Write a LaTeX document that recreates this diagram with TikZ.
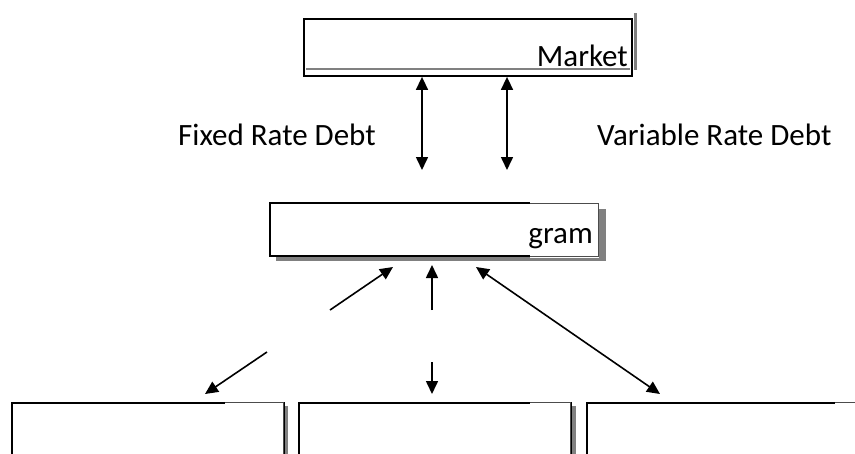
\documentclass[tikz,border=0pt]{standalone}
\usepackage{fontspec}
\setmainfont{Carlito}
\usetikzlibrary{arrows.meta}
\begin{document}
\begin{tikzpicture}[x=1pt,y=-1pt,
  box/.style={draw=black, line width=1.8pt, fill=white, inner sep=0pt},
  lbl/.style={font=\fontsize{31}{37}\selectfont, inner sep=0pt},
  con/.style={line width=1.6pt, -{Triangle[length=13pt,width=12pt]}},
  dcon/.style={line width=1.6pt, {Triangle[length=13pt,width=12pt]}-{Triangle[length=13pt,width=12pt]}},
  shade/.style={fill=black!50, draw=none},
  patch/.style={fill=white, draw=none},
  thinb/.style={draw=black!70, line width=0.6pt}]
\useasboundingbox (0,0) rectangle (855,453);
\clip (0,0) rectangle (855,453);

% ---- Market box ----
\node[box, minimum width=328pt, minimum height=57pt] (market) at (468,47.5) {};
\draw[black!50, line width=2pt] (306,68.5) -- (630,68.5);
\draw[black!50, line width=2.5pt] (635.5,13) -- (635.5,70);
\node[lbl, anchor=base east] (mtext) at (628,66) {Market};

% ---- Program box ----
\fill[shade] (276,209) rectangle (606,261);
\node[box, minimum width=328pt, minimum height=53pt] (prog) at (434,229.5) {};
\fill[patch] (530,201.5) rectangle (599,257.5);
\draw[thinb] (530,203) -- (598,203) -- (598,256) -- (530,256);
\node[lbl, anchor=base east] (gtext) at (593,243) {gram};

% ---- Bottom boxes ----
\fill[shade] (283,406) rectangle (288,460);
\fill[shade] (570,406) rectangle (576,460);
\node[box, minimum width=272pt, minimum height=80pt, anchor=north west] (b1) at (11,402) {};
\node[box, minimum width=272pt, minimum height=80pt, anchor=north west] (b2) at (298,402) {};
\node[box, minimum width=290pt, minimum height=80pt, anchor=north west] (b3) at (586,402) {};
\fill[patch] (225,400.5) rectangle (284,460);
\draw[thinb] (225,402) -- (283,402) -- (283,460);
\fill[patch] (530,400.5) rectangle (571,460);
\draw[thinb] (530,402) -- (570,402) -- (570,460);
\fill[patch] (835,400.5) rectangle (856,460);
\draw[thinb] (835,402) -- (856,402);

% ---- Labels ----
\node[lbl, anchor=base west] (fixed) at (178,145) {Fixed Rate Debt};
\node[lbl, anchor=base west] (var) at (597,145) {Variable Rate Debt};

% ---- Market <-> program arrows ----
\coordinate (fl) at (422,170);
\coordinate (vl) at (507,170);
\draw[dcon] (market.south -| fl) -- (fl);
\draw[dcon] (market.south -| vl) -- (vl);

% ---- Lower arrows ----
\coordinate (l1) at (393,267);
\coordinate (l2) at (330,310);
\coordinate (l3) at (267,352);
\coordinate (l4) at (205,394);
\draw[con] (l2) -- (l1);
\draw[con] (l3) -- (l4);
\coordinate (m1) at (432,265);
\coordinate (m2) at (432,310);
\coordinate (m3) at (432,362);
\coordinate (m4) at (432,394);
\draw[con] (m2) -- (m1);
\draw[con] (m3) -- (m4);
\coordinate (r1) at (476,267);
\coordinate (r2) at (660,394);
\draw[dcon] (r1) -- (r2);
\end{tikzpicture}
\end{document}
